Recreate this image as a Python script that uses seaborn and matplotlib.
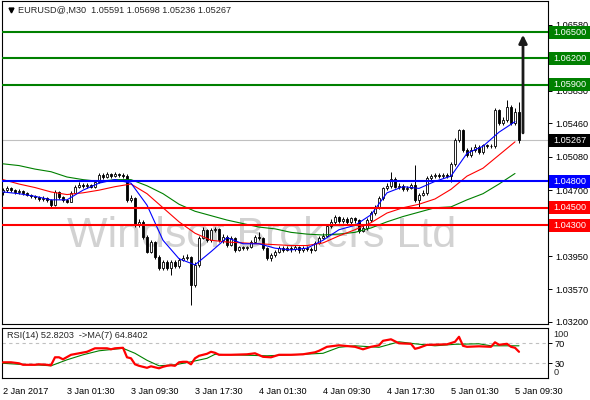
import matplotlib
matplotlib.use('Agg')
import matplotlib.pyplot as plt
import matplotlib.transforms as mtransforms
from matplotlib.patches import Rectangle
import seaborn as sns

sns.set_style('white')
plt.rcParams['font.family'] = ['Liberation Sans', 'DejaVu Sans']

# ---- data (EURUSD@ M30, 2 Jan 17:30 .. 5 Jan 10:00) ----
opens = [1.0468, 1.0470, 1.0473, 1.0470, 1.0468, 1.0469, 1.0467, 1.0465, 1.0463, 1.0462,
         1.0460, 1.0461, 1.0459, 1.0453, 1.0468, 1.0462, 1.0459, 1.0457, 1.0467, 1.0474,
         1.0476, 1.0475, 1.0476, 1.0474, 1.0479, 1.0487, 1.0485, 1.0488, 1.0486, 1.0488,
         1.0487, 1.0486, 1.0459, 1.0461, 1.0430, 1.0434, 1.0417, 1.0400, 1.0411, 1.0394,
         1.0381, 1.0388, 1.0381, 1.0388, 1.0384, 1.0391, 1.0393, 1.0394, 1.0362, 1.0385,
         1.0416, 1.0425, 1.0413, 1.0425, 1.0426, 1.0413, 1.0417, 1.0408, 1.0416, 1.0402,
         1.0405, 1.0404, 1.0405, 1.0411, 1.0417, 1.0416, 1.0404, 1.0393, 1.0396, 1.0400,
         1.0404, 1.0402, 1.0404, 1.0403, 1.0405, 1.0402, 1.0404, 1.0403, 1.0402, 1.0410,
         1.0416, 1.0418, 1.0429, 1.0434, 1.0439, 1.0435, 1.0437, 1.0434, 1.0438, 1.0436,
         1.0424, 1.0427, 1.0436, 1.0444, 1.0451, 1.0461, 1.0472, 1.0475, 1.0483, 1.0474,
         1.0475, 1.0471, 1.0473, 1.0476, 1.0459, 1.0465, 1.0467, 1.0484, 1.0486, 1.0487,
         1.0486, 1.0487, 1.0486, 1.0500, 1.0527, 1.0538, 1.0516, 1.0510, 1.0516, 1.0519,
         1.0513, 1.0521, 1.0520, 1.0520, 1.0561, 1.0546, 1.0550, 1.0565, 1.0546, 1.05591]
highs = [1.0473, 1.0475, 1.0474, 1.0471, 1.0471, 1.0470, 1.0468, 1.0466, 1.0464, 1.0463,
         1.0463, 1.0462, 1.0460, 1.0470, 1.0469, 1.0463, 1.0460, 1.0469, 1.0476, 1.0479,
         1.0478, 1.0478, 1.0477, 1.0481, 1.0489, 1.0490, 1.0491, 1.0490, 1.0491, 1.0490,
         1.0489, 1.0488, 1.0464, 1.0462, 1.0437, 1.0436, 1.0419, 1.0413, 1.0412, 1.0396,
         1.0391, 1.0390, 1.0390, 1.0390, 1.0393, 1.0396, 1.0397, 1.0395, 1.0388, 1.0418,
         1.0428, 1.0426, 1.0427, 1.0428, 1.0427, 1.0420, 1.0419, 1.0418, 1.0417, 1.0407,
         1.0406, 1.0407, 1.0413, 1.0419, 1.0422, 1.0417, 1.0405, 1.0398, 1.0402, 1.0406,
         1.0406, 1.0407, 1.0406, 1.0408, 1.0406, 1.0407, 1.0406, 1.0405, 1.0412, 1.0418,
         1.0421, 1.0431, 1.0437, 1.0442, 1.0441, 1.0440, 1.0439, 1.0440, 1.0439, 1.0437,
         1.0430, 1.0438, 1.0446, 1.0453, 1.0463, 1.0474, 1.0478, 1.0491, 1.0485, 1.0478,
         1.0477, 1.0475, 1.0478, 1.0499, 1.0467, 1.0470, 1.0486, 1.0488, 1.0490, 1.0489,
         1.0489, 1.0489, 1.0502, 1.0529, 1.0540, 1.0540, 1.0518, 1.0519, 1.0522, 1.0521,
         1.0523, 1.0523, 1.0522, 1.0563, 1.0562, 1.0553, 1.0573, 1.0567, 1.0563, 1.05698]
lows = [1.0465, 1.0468, 1.0468, 1.0466, 1.0466, 1.0465, 1.0463, 1.0461, 1.0460, 1.0458,
        1.0458, 1.0457, 1.0451, 1.0452, 1.0460, 1.0457, 1.0455, 1.0456, 1.0466, 1.0473,
        1.0473, 1.0473, 1.0472, 1.0473, 1.0478, 1.0483, 1.0484, 1.0484, 1.0485, 1.0485,
        1.0484, 1.0457, 1.0456, 1.0428, 1.0428, 1.0415, 1.0398, 1.0398, 1.0392, 1.0379,
        1.0379, 1.0379, 1.0373, 1.0381, 1.0382, 1.0389, 1.0390, 1.0339, 1.0360, 1.0383,
        1.0414, 1.0411, 1.0411, 1.0422, 1.0411, 1.0410, 1.0405, 1.0406, 1.0400, 1.0401,
        1.0402, 1.0402, 1.0404, 1.0410, 1.0413, 1.0402, 1.0390, 1.0389, 1.0394, 1.0398,
        1.0400, 1.0401, 1.0400, 1.0401, 1.0398, 1.0400, 1.0401, 1.0399, 1.0401, 1.0409,
        1.0414, 1.0417, 1.0427, 1.0432, 1.0433, 1.0433, 1.0432, 1.0432, 1.0433, 1.0421,
        1.0422, 1.0425, 1.0434, 1.0442, 1.0449, 1.0459, 1.0470, 1.0473, 1.0472, 1.0471,
        1.0469, 1.0469, 1.0471, 1.0457, 1.0451, 1.0463, 1.0465, 1.0482, 1.0484, 1.0484,
        1.0484, 1.0484, 1.0479, 1.0498, 1.0525, 1.0514, 1.0508, 1.0508, 1.0514, 1.0511,
        1.0511, 1.0518, 1.0518, 1.0518, 1.0544, 1.0544, 1.0548, 1.0544, 1.0544, 1.05236]
closes = [1.0470, 1.0473, 1.0470, 1.0468, 1.0469, 1.0467, 1.0465, 1.0463, 1.0462, 1.0460,
          1.0461, 1.0459, 1.0453, 1.0468, 1.0462, 1.0459, 1.0457, 1.0467, 1.0474, 1.0476,
          1.0475, 1.0476, 1.0474, 1.0479, 1.0487, 1.0485, 1.0488, 1.0486, 1.0488, 1.0487,
          1.0486, 1.0459, 1.0461, 1.0430, 1.0434, 1.0417, 1.0400, 1.0411, 1.0394, 1.0381,
          1.0388, 1.0381, 1.0388, 1.0384, 1.0391, 1.0393, 1.0394, 1.0362, 1.0385, 1.0416,
          1.0425, 1.0413, 1.0425, 1.0426, 1.0413, 1.0417, 1.0408, 1.0416, 1.0402, 1.0405,
          1.0404, 1.0405, 1.0411, 1.0417, 1.0416, 1.0404, 1.0393, 1.0396, 1.0400, 1.0404,
          1.0402, 1.0404, 1.0403, 1.0405, 1.0402, 1.0404, 1.0403, 1.0402, 1.0410, 1.0416,
          1.0418, 1.0429, 1.0434, 1.0439, 1.0435, 1.0437, 1.0434, 1.0438, 1.0436, 1.0424,
          1.0427, 1.0436, 1.0444, 1.0451, 1.0461, 1.0472, 1.0475, 1.0483, 1.0474, 1.0475,
          1.0471, 1.0473, 1.0476, 1.0459, 1.0465, 1.0467, 1.0484, 1.0486, 1.0487, 1.0486,
          1.0487, 1.0486, 1.0500, 1.0527, 1.0538, 1.0516, 1.0510, 1.0516, 1.0519, 1.0513,
          1.0521, 1.0520, 1.0520, 1.0561, 1.0546, 1.0550, 1.0565, 1.0546, 1.05591, 1.05267]

# moving averages read every 4 bars
ma_idx = list(range(0, 129, 4))
ma_fast = [1.0468, 1.0466, 1.0463, 1.0459, 1.0459, 1.0470, 1.0478, 1.0482, 1.0478, 1.0453, 1.0413,
           1.0392, 1.0385, 1.0400, 1.0416, 1.0409, 1.0409, 1.0404, 1.0402, 1.0404, 1.0413, 1.0425,
           1.0430, 1.0442, 1.0467, 1.0474, 1.0472, 1.0480, 1.0486, 1.0512, 1.0520, 1.0536, 1.0548]
ma_mid = [1.0482, 1.0477, 1.0473, 1.0468, 1.0465, 1.0467, 1.0470, 1.0474, 1.0477, 1.0466, 1.0450,
          1.0434, 1.0421, 1.0413, 1.0411, 1.0410, 1.0409, 1.0408, 1.0407, 1.0407, 1.0410, 1.0418,
          1.0425, 1.0433, 1.0444, 1.0450, 1.0454, 1.0460, 1.0471, 1.0486, 1.0495, 1.0510, 1.0525]
ma_slow = [1.0500, 1.0498, 1.0494, 1.0491, 1.0485, 1.0482, 1.0480, 1.0482, 1.0482, 1.0475, 1.0466,
           1.0454, 1.0446, 1.0441, 1.0436, 1.0432, 1.0428, 1.0426, 1.0422, 1.0420, 1.0419, 1.0420,
           1.0422, 1.0427, 1.0434, 1.0440, 1.0445, 1.0450, 1.0451, 1.0459, 1.0466, 1.0477, 1.0489]

# RSI(14) and its MA(7)
rsi_idx = [0, 2, 4, 5, 8, 9, 11, 12, 13, 14, 15, 17, 19, 21, 23, 26, 27, 28, 30, 31, 32, 33, 34, 35,
           36, 37, 38, 39, 40, 41, 42, 43, 44, 45, 46, 47, 48, 49, 50, 51, 52, 53, 54, 57, 61, 63,
           65, 67, 69, 72, 75, 78, 79, 81, 84, 88, 90, 92, 94, 95, 97, 99, 102, 103, 104, 106, 107,
           111, 113, 114, 115, 116, 119, 122, 123, 124, 125, 126, 127, 128, 129]
rsi_val = [32, 32, 30, 27, 27, 28, 27, 26, 42, 42, 38, 47, 50, 53, 60, 60, 58, 60, 61, 42, 40, 28, 25, 23,
           21, 24, 22, 20, 23, 25, 26, 25, 32, 33, 33, 28, 40, 45, 47, 49, 53, 51, 47, 47, 48, 50,
           43, 42, 47, 47, 48, 52, 55, 63, 66, 63, 58, 63, 66, 75, 78, 70, 69, 59, 61, 67, 67,
           68, 73, 83, 65, 63, 64, 63, 72, 67, 68, 69, 63, 61, 53]
rsi_ma_idx = [0, 4, 8, 12, 16, 20, 24, 30, 33, 36, 39, 43, 47, 51, 53, 57, 66, 72, 75, 80, 84, 88,
              94, 99, 103, 108, 113, 119, 122, 129]
rsi_ma_val = [30, 28, 27, 25, 37, 47, 55, 60, 50, 36, 25, 27, 33, 40, 48, 47, 45, 47, 48, 50, 62, 65,
              62, 73, 69, 65, 68, 69, 65, 65]

levels = [1.0650, 1.0620, 1.0590, 1.0480, 1.0450, 1.0430]
level_colors = ['#008000', '#008000', '#008000', '#0000ff', '#ff0000', '#ff0000']
price_ticks = [1.06580, 1.05830, 1.05460, 1.05080, 1.04700, 1.03950, 1.03570, 1.03200]
time_ticks = [0, 16, 32, 48, 64, 80, 96, 112, 128]
time_labels = ['2 Jan 2017', '3 Jan 01:30', '3 Jan 09:30', '3 Jan 17:30', '4 Jan 01:30',
               '4 Jan 09:30', '4 Jan 17:30', '5 Jan 01:30', '5 Jan 09:30']
y_lo, y_hi = 1.03177, 1.06853
target = 1.0650
arrow_from = 1.0532

FS = 6.6
W, H = 590, 400
fig = plt.figure(figsize=(W / 100, H / 100), dpi=100)
ax = fig.add_axes([2 / W, (H - 324) / H, 546 / W, 323 / H])
rax = fig.add_axes([2 / W, (H - 378.3) / H, 546 / W, 50 / H])

idx = list(range(len(closes)))
body_lo = [min(o, c) for o, c in zip(opens, closes)]
body_h = [abs(c - o) for o, c in zip(opens, closes)]
fills = ['white' if c >= o else 'black' for o, c in zip(opens, closes)]

# broker watermark behind the candles
ax.text(0.476, 0.238, 'Windsor Brokers Ltd', transform=ax.transAxes, ha='center', va='baseline',
        fontsize=31, color='#d2d2d2', zorder=0.5)

ax.vlines(idx, lows, highs, color='black', lw=0.7, zorder=3)
ax.bar(idx, body_h, bottom=body_lo, width=0.72, color=fills, edgecolor='black', linewidth=0.6, zorder=4)

sns.lineplot(x=ma_idx, y=ma_slow, ax=ax, color='#008000', lw=0.8, zorder=5)
sns.lineplot(x=ma_idx, y=ma_mid, ax=ax, color='#ff0000', lw=0.8, zorder=5)
sns.lineplot(x=ma_idx, y=ma_fast, ax=ax, color='#0000ff', lw=0.8, zorder=5)

ax.axhline(closes[-1], color='#c0c0c0', lw=0.8, zorder=2)
for lv, col in zip(levels, level_colors):
    ax.axhline(lv, color=col, lw=1.5, zorder=6)

ax.annotate('', xy=(len(closes), target), xytext=(len(closes), arrow_from),
            arrowprops=dict(arrowstyle='-|>', color='#1a1a1a', lw=2.0, mutation_scale=12), zorder=7)

ax.set_xticks([])
ax.yaxis.tick_right()
ax.set_yticks(price_ticks)
ax.set_yticklabels([f'{v:.5f}' for v in price_ticks])
ax.tick_params(axis='y', length=3, width=0.7, pad=2, labelsize=FS, direction='out', colors='black')
ax.set_xlabel('')
ax.set_ylabel('')

# price label boxes on the right scale
px = (y_hi - y_lo) / 323
blend = mtransforms.blended_transform_factory(fig.transFigure, ax.transData)
boxes = list(zip(levels, level_colors)) + [(closes[-1], 'black')]
for lv, col in boxes:
    ax.add_artist(Rectangle((549 / W, lv - 6.5 * px), 41 / W, 13 * px, transform=blend,
                            fc=col, ec='none', clip_on=False, zorder=10))
    ax.text(569.5 / W, lv, f'{lv:.5f}', transform=blend, ha='center', va='center', color='white',
            fontsize=FS, zorder=11, clip_on=False)
ax.set_xlim(-0.25, 136.25)
ax.set_ylim(y_lo, y_hi)

# RSI panel
sns.lineplot(x=rsi_ma_idx, y=rsi_ma_val, ax=rax, color='#008000', lw=0.8, zorder=4)
sns.lineplot(x=rsi_idx, y=rsi_val, ax=rax, color='#ff0000', lw=1.6, zorder=5)
for lv in (70, 30):
    rax.axhline(lv, color='#c0c0c0', lw=0.8, dashes=(3, 3), zorder=2)
rax.set_xlim(-0.25, 136.25)
rax.set_ylim(0, 100)
rax.yaxis.tick_right()
rax.set_yticks([70, 30])
rax.set_yticklabels(['70', '30'])
rax.tick_params(axis='y', length=3, width=0.7, pad=2, labelsize=FS, colors='black')
rax.text(1.0095, 0.88, '100', transform=rax.transAxes, ha='left', va='center', fontsize=FS)
rax.text(1.0095, 0.12, '0', transform=rax.transAxes, ha='left', va='center', fontsize=FS)
rax.set_xticks(time_ticks)
rax.set_xticklabels(time_labels)
rax.tick_params(axis='x', length=4, width=0.7, pad=2, labelsize=FS, direction='out', colors='black')
for lbl in rax.get_xticklabels():
    lbl.set_ha('left')
rax.set_xlabel('')
rax.set_ylabel('')

for a in (ax, rax):
    for s in a.spines.values():
        s.set_color('black')
        s.set_linewidth(0.8)

fig.text(18 / W, 1 - 10 / H, 'EURUSD@,M30  1.05591 1.05698 1.05236 1.05267', ha='left', va='center', fontsize=FS)
ax.plot([9 / 546], [1 - 9 / 323], marker='v', ms=3.5, color='black', transform=ax.transAxes, clip_on=False)
fig.text(7 / W, 1 - 336 / H, 'RSI(14) 52.8203  ->MA(7) 64.8402', ha='left', va='center', fontsize=FS)

fig.savefig('out.png', dpi=100)
